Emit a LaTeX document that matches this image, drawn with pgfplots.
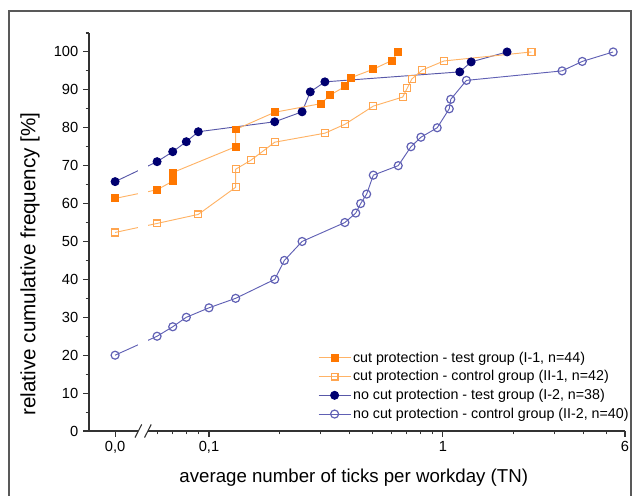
\documentclass[border=0pt]{standalone}
\usepackage{fontspec}
\setmainfont{Liberation Sans}
\usepackage{pgfplots}
\pgfplotsset{compat=1.18}

\definecolor{orfill}{HTML}{FF7700}
\definecolor{orline}{HTML}{FFB366}
\definecolor{oropen}{HTML}{FFA54F}
\definecolor{navy}{HTML}{000070}
\definecolor{navyline}{HTML}{5858A8}
\definecolor{lblue}{HTML}{6060B4}

\begin{document}
\begin{tikzpicture}[x=1pt,y=1pt]
\useasboundingbox (0,0) rectangle (474,372);
\draw[black!65, line width=0.8pt] (6.75,0) -- (6.75,363.75) -- (473.25,363.75) -- (473.25,0);
\begin{axis}[
  at={(66.75pt,48.75pt)}, anchor=south west,
  scale only axis, width=402pt, height=298.5pt,
  xmode=log, xmin=0.0307, xmax=6,
  ymin=0, ymax=105,
  axis lines=left,
  axis line style={-, line width=0.9pt, black!80},
  xtick={0.0397,0.1,1,6},
  xticklabels={{0,0},{0,1},1,6},
  minor xtick={0.06,0.07,0.08,0.09,0.2,0.3,0.4,0.5,0.6,0.7,0.8,0.9,2,3,4,5},
  ytick={0,10,...,100},
  minor ytick={5,15,...,105},
  tick align=outside,
  major tick length=4.5pt, minor tick length=2.5pt,
  tick style={black!80, line width=0.8pt},
  ticklabel style={font=\fontsize{11}{13}\selectfont},
  /pgf/number format/assume math mode=true,
  xlabel={average number of ticks per workday (TN)},
  ylabel={relative cumulative frequency [\%]},
  xlabel style={font=\fontsize{14}{16}\selectfont, at={(axis description cs:0.494,-0.118)}, anchor=center},
  ylabel style={font=\fontsize{15.5}{17}\selectfont, at={(axis description cs:-0.110,0.42)}, anchor=center},
  clip=false,
  reverse legend,
  legend style={at={(0.427,0.205)}, anchor=north west, draw=none, fill=none,
    font=\fontsize{10.7}{12}\selectfont, row sep=1.8pt, inner sep=0pt,
    nodes={inner sep=1.5pt}},
  legend cell align=left,
  legend image code/.code={\draw[mark repeat=2,mark phase=2] plot coordinates {(0pt,0pt) (12pt,0pt) (24pt,0pt)};},
  after end axis/.code={
    \fill[white] (axis cs:0.0499,-1.2) rectangle (axis cs:0.0548,104);
    \draw[black!80, line width=0.8pt] ([xshift=-2.5pt,yshift=-4.9pt]axis cs:0.0499,0) -- ([xshift=2.5pt,yshift=4.9pt]axis cs:0.0499,0);
    \draw[black!80, line width=0.8pt] ([xshift=-2.5pt,yshift=-4.9pt]axis cs:0.0548,0) -- ([xshift=2.5pt,yshift=4.9pt]axis cs:0.0548,0);
  },
]
% II-2: no cut protection, control group
\addplot[color=lblue, line width=0.7pt, mark=o, mark size=3pt, mark options={line width=0.9pt, fill=white}] coordinates {
  (0.0397,20) (0.060,25) (0.070,27.5) (0.080,30) (0.100,32.5) (0.130,35)
  (0.191,40) (0.210,45) (0.250,50) (0.381,55) (0.424,57.5) (0.445,60)
  (0.472,62.5) (0.504,67.5) (0.644,70) (0.730,75) (0.805,77.5) (0.945,80)
  (1.064,85) (1.08,87.5) (1.26,92.5) (3.23,95) (3.94,97.5) (5.34,100)};
% I-2: no cut protection, test group
\addplot[color=navyline, line width=0.7pt, mark=*, mark size=3pt, mark options={draw=navy, fill=navy}] coordinates {
  (0.0397,65.79) (0.060,71.05) (0.070,73.68) (0.080,76.32) (0.090,78.95)
  (0.191,81.58) (0.250,84.21) (0.271,89.47) (0.313,92.11) (1.18,94.74)
  (1.32,97.37) (1.88,100)};
% II-1: cut protection, control group
\addplot[color=orline, line width=0.7pt, mark=square, mark size=2.6pt, mark options={draw=oropen, line width=0.9pt, fill=white}] coordinates {
  (0.0397,52.38) (0.060,54.76) (0.090,57.14) (0.130,64.29) (0.130,69.05)
  (0.151,71.43) (0.170,73.81) (0.191,76.19) (0.313,78.57) (0.382,80.95)
  (0.504,85.71) (0.673,88.10) (0.704,90.48) (0.736,92.86) (0.816,95.24)
  (1.01,97.62) (2.39,100)};
% I-1: cut protection, test group
\addplot[color=orline, line width=0.7pt, mark=square*, mark size=2.6pt, mark options={draw=orfill, fill=orfill}] coordinates {
  (0.0397,61.36) (0.060,63.64) (0.070,65.91) (0.070,68.18) (0.130,75.00)
  (0.130,79.55) (0.191,84.09) (0.301,86.36) (0.330,88.64) (0.382,90.91)
  (0.403,93.18) (0.504,95.45) (0.604,97.73) (0.644,100)};
\legend{no cut protection - control group (II-2{,} n=40),
  no cut protection - test group (I-2{,} n=38),
  cut protection - control group (II-1{,} n=42),
  cut protection - test group (I-1{,} n=44)}
\end{axis}
\end{tikzpicture}
\end{document}
